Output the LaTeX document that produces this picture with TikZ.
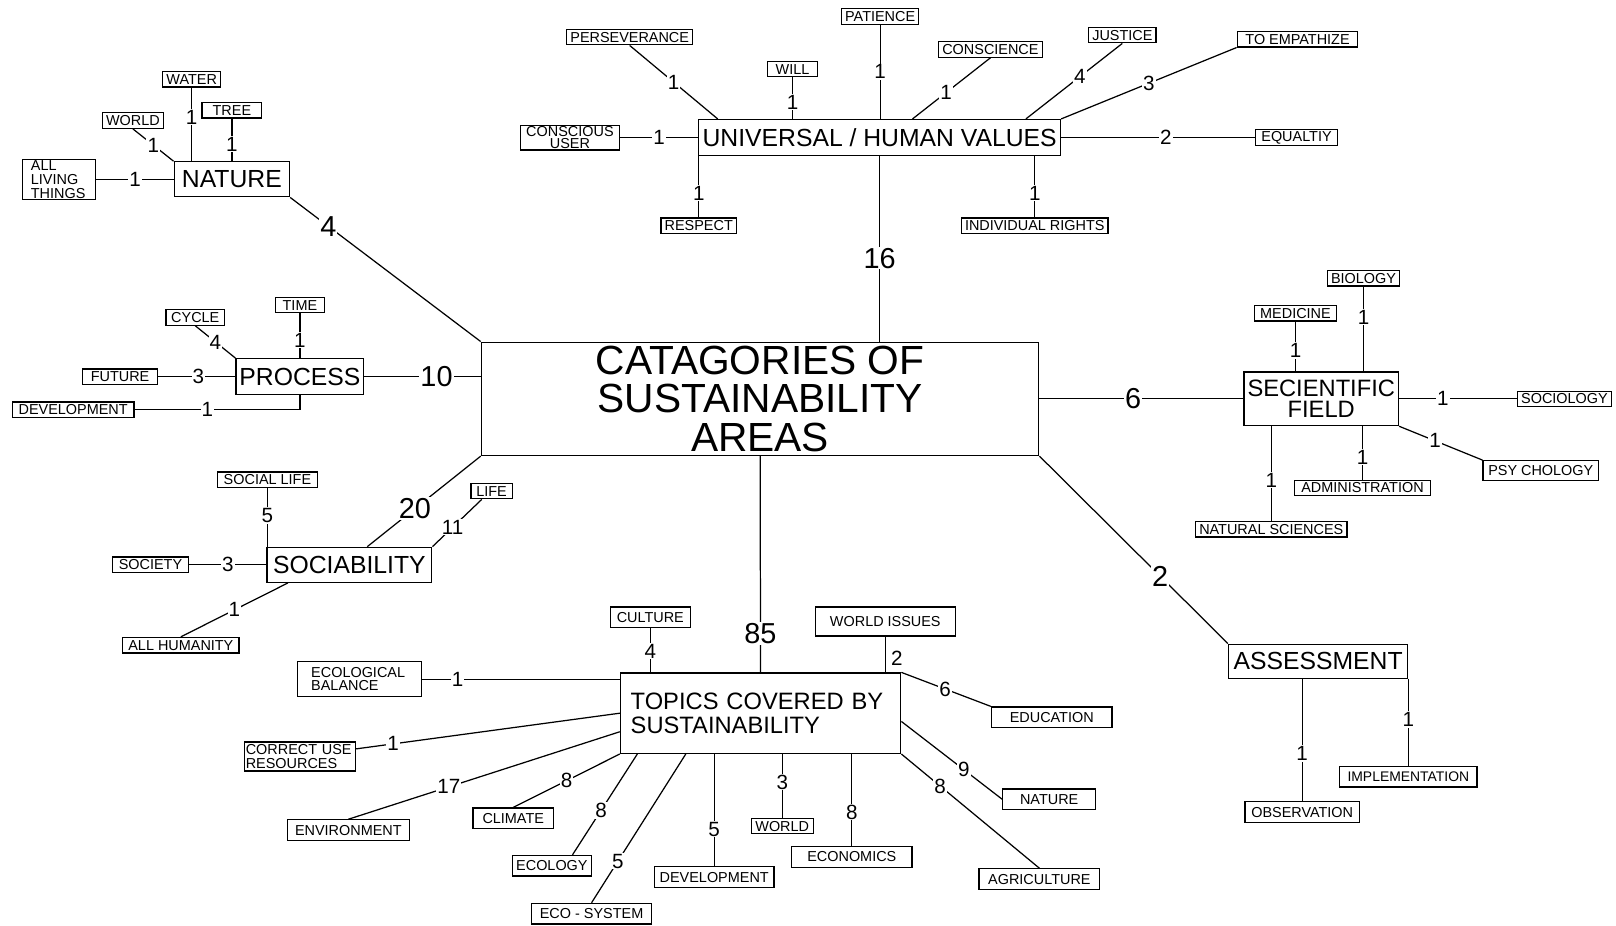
\documentclass[tikz,border=0pt]{standalone}
\usepackage{fontspec}
\setmainfont{Liberation Sans}
\begin{document}
\begin{tikzpicture}[x=1pt,y=-1pt,line width=1.2pt]
\tikzstyle{leaf}=[draw, fill=white, font=\fontsize{14}{14}\selectfont, inner xsep=3.5pt, inner ysep=0pt, minimum height=15pt]
\tikzstyle{tleaf}=[leaf, minimum height=20pt]
\tikzstyle{branch}=[draw, fill=white, font=\fontsize{24}{24}\selectfont, inner xsep=3pt, inner ysep=0pt]
\tikzstyle{multi}=[draw, fill=white, inner ysep=0pt, font=\fontsize{14}{13}\selectfont]
\tikzstyle{num}=[fill=white, inner sep=1pt, font=\fontsize{20}{20}\selectfont]
\tikzstyle{bignum}=[num, font=\fontsize{28}{28}\selectfont]

\useasboundingbox (0,0) rectangle (1568,898);

\node[draw, fill=white, align=center, inner sep=0pt, minimum width=541pt, minimum height=110pt, font=\fontsize{39.5}{37}\selectfont] (cat) at (737.5,387) {CATAGORIES OF\\SUSTAINABILITY\\AREAS};

\node[branch, minimum width=351pt, minimum height=35pt] (uhv) at (853.5,133.5) {UNIVERSAL / HUMAN VALUES};
\node[leaf] (pers) at (611,36) {PERSEVERANCE};
\node[leaf] (pat) at (854,16) {PATIENCE};
\node[leaf, minimum width=48pt] (will) at (769,67) {WILL};
\node[leaf] (consc) at (961,48) {CONSCIENCE};
\node[leaf] (just) at (1089,34) {JUSTICE};
\node[leaf, minimum width=117pt] (emp) at (1259,38) {TO EMPATHIZE};
\node[leaf, minimum width=79pt] (equ) at (1258,133.5) {EQUALTIY};
\node[multi, align=center, font=\fontsize{14}{9}\selectfont, inner xsep=2pt, minimum width=96pt, minimum height=24pt] (cuser) at (553,133.5) {CONSCIOUS\\USER};
\node[leaf] (resp) at (678,219) {RESPECT};
\node[leaf] (irights) at (1004,219) {INDIVIDUAL RIGHTS};

\node[branch, minimum width=112pt, minimum height=34pt] (nat) at (225,174) {NATURE};
\node[leaf] (water) at (186,77) {WATER};
\node[leaf, minimum width=58pt] (tree) at (225,107) {TREE};
\node[leaf] (world1) at (129,117) {WORLD};
\node[multi, align=left, text width=55pt, inner xsep=8pt, font=\fontsize{14}{13.5}\selectfont, minimum height=39pt] (alt) at (57.5,174) {ALL\\LIVING\\THINGS};

\node[branch, minimum width=124pt, minimum height=35pt] (proc) at (291,365.5) {PROCESS};
\node[leaf, minimum width=48pt] (time) at (291,296) {TIME};
\node[leaf, minimum width=57pt] (cycle) at (189.5,308) {CYCLE};
\node[leaf, minimum width=73pt] (fut) at (116.5,365.5) {FUTURE};
\node[leaf, minimum width=118pt] (dev1) at (71,397.5) {DEVELOPMENT};

\node[branch, minimum width=160pt, minimum height=34pt] (soc) at (339,548) {SOCIABILITY};
\node[leaf, minimum width=97pt] (slife) at (259.5,465.5) {SOCIAL LIFE};
\node[leaf, minimum width=74pt] (society) at (146,548) {SOCIETY};
\node[leaf, minimum width=113pt] (allh) at (175.5,626) {ALL HUMANITY};
\node[leaf, minimum width=40pt] (life) at (477,476.5) {LIFE};

\node[draw, fill=white, align=center, inner sep=0pt, minimum width=150pt, minimum height=52pt, font=\fontsize{23}{20}\selectfont] (sci) at (1282,387) {SECIENTIFIC\\FIELD};
\node[leaf] (bio) at (1323,270) {BIOLOGY};
\node[leaf, minimum width=80pt] (med) at (1257,304) {MEDICINE};
\node[leaf] (socio) at (1518,387) {SOCIOLOGY};
\node[leaf, minimum width=112pt, minimum height=19pt] (psy) at (1495,456.5) {PSY CHOLOGY};
\node[leaf, minimum width=132pt] (adm) at (1322,473.5) {ADMINISTRATION};
\node[leaf] (natsci) at (1233.5,513.5) {NATURAL SCIENCES};

\node[branch, minimum width=174pt, minimum height=33pt] (ass) at (1279,641.5) {ASSESSMENT};
\node[tleaf, minimum width=111pt] (obs) at (1263.5,788) {OBSERVATION};
\node[tleaf, minimum width=133pt, font=\fontsize{13.5}{13.5}\selectfont] (impl) at (1366.5,753.5) {IMPLEMENTATION};

\node[branch, align=left, text width=252pt, inner xsep=10pt, minimum height=78pt, font=\fontsize{23}{23}\selectfont] (top) at (738,692) {TOPICS COVERED BY\\SUSTAINABILITY};
\node[tleaf, minimum width=78pt] (cult) at (631,599) {CULTURE};
\node[tleaf, minimum width=136pt, minimum height=28pt] (wiss) at (859,603) {WORLD ISSUES};
\node[multi, align=left, text width=94pt, inner xsep=13pt, minimum height=34pt] (ecob) at (349,659) {ECOLOGICAL\\BALANCE};
\node[multi, align=left, text width=105pt, inner xsep=1.5pt, minimum height=28pt, font=\fontsize{14}{14}\selectfont] (cuse) at (291,734) {CORRECT USE\\RESOURCES};
\node[tleaf, minimum width=118pt] (env) at (338,805.5) {ENVIRONMENT};
\node[tleaf, minimum width=78pt] (clim) at (498,794) {CLIMATE};
\node[tleaf, minimum width=77pt] (ecol) at (535.5,840) {ECOLOGY};
\node[tleaf, minimum width=116pt] (ecos) at (574,886.5) {ECO - SYSTEM};
\node[tleaf, minimum width=116pt] (dev2) at (693,851) {DEVELOPMENT};
\node[leaf, minimum width=60pt] (world2) at (759,801.5) {WORLD};
\node[tleaf, minimum width=117pt] (econ) at (826.5,831.5) {ECONOMICS};
\node[tleaf, minimum width=117pt] (agri) at (1008.5,853) {AGRICULTURE};
\node[tleaf, minimum width=90pt] (nat2) at (1018,775.5) {NATURE};
\node[tleaf, minimum width=117pt] (edu) at (1020.5,696) {EDUCATION};

\draw (pers.south) -- node[num]{1} ([xshift=19pt]uhv.north west);
\draw (will) -- node[num,pos=.6]{1} (will |- uhv.north);
\draw (pat) -- node[num]{1} (pat |- uhv.north);
\draw (consc.south) -- node[num,pos=.57]{1} ([xshift=208pt]uhv.north west);
\draw (just.south) -- node[num,pos=.44]{4} ([xshift=318pt]uhv.north west);
\draw (emp.south west) -- node[num]{3} (uhv.north east);
\draw (uhv) -- node[num,pos=.54]{2} (equ);
\draw (cuser) -- node[num]{1} (uhv);
\draw (resp) -- node[num,pos=.4]{1} (resp |- uhv.south);
\draw (irights) -- node[num,pos=.4]{1} (irights |- uhv.south);
\draw (uhv.south) -- node[bignum,pos=.55]{16} (uhv.south |- cat.north);

\draw (water) -- node[num,pos=.4]{1} (water |- nat.north);
\draw (tree) -- node[num,pos=.6]{1} (nat);
\draw (world1.south) -- node[num]{1} (nat.north west);
\draw (alt) -- node[num]{1} (nat);
\draw (nat.south east) -- node[bignum,pos=.2]{4} (cat.north west);

\draw (time) -- node[num,pos=.6]{1} (proc);
\draw (cycle.south) -- node[num]{4} (proc.north west);
\draw (fut) -- node[num,pos=.52]{3} (proc);
\draw (dev1) -| node[num,pos=.22]{1} (proc);
\draw (proc) -- node[bignum,pos=.62]{10} (proc -| cat.west);

\draw (slife) -- node[num,pos=.47]{5} (slife |- soc.north);
\draw (society) -- node[num]{3} (soc);
\draw ([xshift=21pt]soc.south west) -- node[num]{1} (allh.north);
\draw ([xshift=11pt]life.south west) -- node[num,pos=.59]{11} (soc.north east);
\draw ([xshift=98pt]soc.north west) -- node[bignum,pos=.42]{20} (cat.south west);

\draw (cat) -- node[bignum,pos=.46]{6} (sci);
\draw (bio) -- node[num,pos=.36]{1} (bio |- sci.north);
\draw (med) -- node[num,pos=.58]{1} (med |- sci.north);
\draw (sci) -- node[num,pos=.37]{1} (socio);
\draw (sci.south east) -- node[num,pos=.43]{1} (psy.north west);
\draw (adm) -- node[num,pos=.42]{1} (adm |- sci.south);
\draw (natsci) -- node[num,pos=.43]{1} (natsci |- sci.south);

\draw (cat.south east) -- node[bignum,pos=.64]{2} (ass.north west);
\draw (obs) -- node[num,pos=.39]{1} (obs |- ass.south);
\draw (impl) -- node[num,pos=.53]{1} (impl |- ass.south);

\draw (cat) -- node[bignum,pos=.82]{85} (top);
\draw (cult) -- node[num,pos=.52]{4} (cult |- top.north);
\draw (wiss) -- node[num,pos=.6,anchor=west,fill=none,xshift=4pt]{2} (wiss |- top.north);
\draw (ecob) -- node[num,pos=.18]{1} (ecob -| top.west);
\draw (cuse) -- node[num,pos=.14]{1} (top.west);
\draw (env.north) -- node[num,pos=.37]{17} ([yshift=-18pt]top.west);
\draw (clim.north) -- node[num]{8} (top.south west);
\draw ([xshift=20pt]ecol.north) -- node[num,pos=.44]{8} ([xshift=17pt]top.south west);
\draw (ecos.north) -- node[num,pos=.28]{5} ([xshift=64pt]top.south west);
\draw (dev2) -- node[num,pos=.33]{5} (dev2 |- top.south);
\draw (world2) -- node[num,pos=.56]{3} (world2 |- top.south);
\draw (econ) -- node[num,pos=.37]{8} (econ |- top.south);
\draw (agri.north) -- node[num,pos=.72]{8} (top.south east);
\draw (nat2.west) -- node[num,pos=.38]{9} ([yshift=-8pt]top.east);
\draw (edu.north west) -- node[num,pos=.51]{6} (top.north east);
\end{tikzpicture}
\end{document}
